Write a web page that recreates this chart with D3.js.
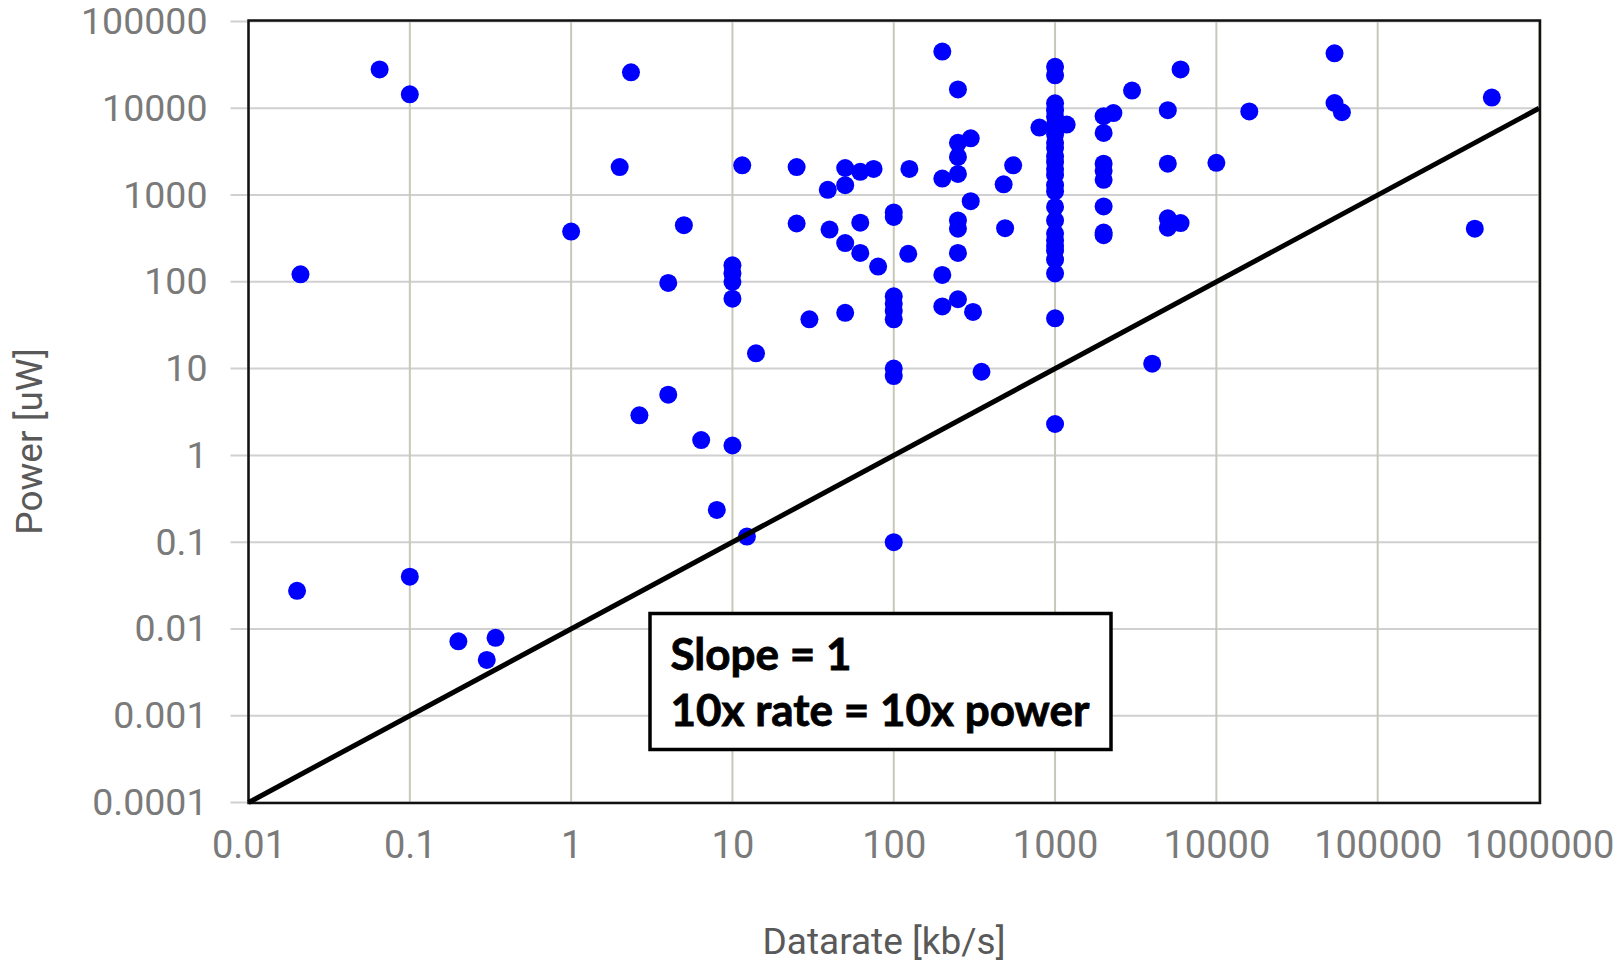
<!DOCTYPE html>
<html>
<head>
<meta charset="utf-8">
<script src="https://cdn.jsdelivr.net/npm/d3@7"></script>
<style>
  html, body { margin: 0; padding: 0; background: #ffffff; }
  svg { display: block; }
</style>
</head>
<body>
<svg id="chart" width="1620" height="962"></svg>
<script>
// ---- Data (Datarate in kb/s, Power in uW) ----
const datarate = [
  0.065, 0.1, 0.021, 0.02, 0.1, 0.2, 0.3, 0.34,
  1, 2, 2.35, 2.65, 4, 4, 5, 6.4, 8,
  10, 10, 10, 10, 10, 11.5, 12.3, 14,
  25, 25, 30, 39, 40, 50, 50, 50, 50, 62, 62, 62, 75, 80,
  100, 100, 100, 100, 100, 100, 100, 100, 100,
  123, 125, 200, 200, 200, 200,
  250, 250, 250, 250, 250, 250, 250, 250,
  300, 300, 310, 350, 480, 490, 550, 800, 1180,
  1000, 1000, 1000, 1000, 1000, 1000, 1000, 1000, 1000, 1000, 1000, 1000, 1000,
  1000, 1000, 1000, 1000, 1000, 1000, 1000, 1000, 1000, 1000, 1000, 1000,
  2000, 2300, 2000, 2000, 2000, 2000, 2000, 2000, 2000,
  3000, 4000, 5000, 5000, 5000, 5000, 6000, 6000, 10000, 16000,
  54000, 54000, 60000, 400000, 510000
];
const power = [
  28000, 14500, 122, 0.0275, 0.04, 0.0072, 0.0044, 0.0079,
  380, 2100, 26000, 2.9, 97, 5, 450, 1.5, 0.235,
  155, 125, 100, 64, 1.3, 2200, 0.116, 15,
  2100, 470, 37, 1150, 400, 2050, 1300, 280, 44, 1850, 480, 215, 2000, 150,
  630, 560, 68, 56, 46, 37, 10, 8.2, 0.1,
  210, 2000, 45000, 1550, 120, 52,
  16500, 4000, 2750, 1750, 510, 410, 215, 63,
  4500, 850, 45, 9.2, 1330, 415, 2200, 6000, 6500,
  30000, 24000, 11400, 9500, 8000, 6500, 5000, 4000, 3500, 2800, 2400, 2000, 1700,
  1300, 1100, 730, 510, 360, 300, 260, 230, 180, 125, 38, 2.3,
  8100, 8800, 5200, 2300, 1900, 1500, 740, 370, 345,
  16000, 11.4, 9500, 2300, 540, 420, 475, 28000, 2350, 9200,
  43000, 11500, 9000, 410, 13300
];

// Reference line: slope = 1 on log-log axes
const slopeX = [0.01, 1000000];
const slopeY = [0.0001, 10000];

// Axis ticks
const xTicks = [0.01, 0.1, 1, 10, 100, 1000, 10000, 100000, 1000000];
const xTickLabels = ["0.01", "0.1", "1", "10", "100", "1000", "10000", "100000", "1000000"];
const yTicks = [100000, 10000, 1000, 100, 10, 1, 0.1, 0.01, 0.001, 0.0001];
const yTickLabels = ["100000", "10000", "1000", "100", "10", "1", "0.1", "0.01", "0.001", "0.0001"];

const xTitle = "Datarate [kb/s]";
const yTitle = "Power [uW]";
const noteLines = ["Slope = 1", "10x rate = 10x power"];

// ---- Layout ----
const W = 1620, H = 962;
const plot = { left: 248.5, right: 1539, top: 21.5, bottom: 802.5 };

const svg = d3.select("#chart");
svg.append("rect").attr("width", W).attr("height", H).attr("fill", "#ffffff");

const x = d3.scaleLog().domain([0.01, 1000000]).range([plot.left, plot.right]);
const y = d3.scaleLog().domain([0.0001, 100000]).range([plot.bottom, plot.top]);

// Gridlines
const grid = svg.append("g");
grid.selectAll("line.h").data(yTicks).enter().append("line")
  .attr("x1", plot.left - 18).attr("x2", plot.right)
  .attr("y1", d => y(d)).attr("y2", d => y(d))
  .attr("stroke", "#d0d0d0").attr("stroke-width", 2);
grid.selectAll("line.v").data(xTicks).enter().append("line")
  .attr("x1", d => x(d)).attr("x2", d => x(d))
  .attr("y1", plot.top).attr("y2", plot.bottom)
  .attr("stroke", "#c9c7b8").attr("stroke-width", 2);

// Axes (labels only; gridlines drawn above)
const yAxis = d3.axisLeft(y).tickValues(yTicks)
  .tickFormat((d, i) => yTickLabels[i]).tickSize(18).tickPadding(23);
const gy = svg.append("g").attr("transform", `translate(${plot.left},0)`).call(yAxis);
gy.select(".domain").remove();
gy.selectAll(".tick line").remove();
gy.selectAll("text")
  .attr("font-family", "Roboto, sans-serif").attr("font-size", 37.5)
  .attr("fill", "#7a7a7a");

const xAxis = d3.axisBottom(x).tickValues(xTicks)
  .tickFormat((d, i) => xTickLabels[i]).tickSize(0).tickPadding(29);
const gx = svg.append("g").attr("transform", `translate(0,${plot.bottom})`).call(xAxis);
gx.select(".domain").remove();
gx.selectAll(".tick line").remove();
gx.selectAll("text")
  .attr("font-family", "Roboto, sans-serif").attr("font-size", 38)
  .attr("fill", "#7a7a7a");

// Plot frame
svg.append("rect")
  .attr("x", plot.left).attr("y", plot.top - 1)
  .attr("width", plot.right - plot.left + 1).attr("height", plot.bottom - plot.top + 1.5)
  .attr("fill", "none").attr("stroke", "#111111").attr("stroke-width", 2.5);

// Points
const pts = datarate.map((d, i) => ({ x: d, y: power[i] }));
svg.append("g").selectAll("circle").data(pts).enter().append("circle")
  .attr("cx", d => x(d.x)).attr("cy", d => y(d.y)).attr("r", 9)
  .attr("fill", "#0000ff");

// Slope line
const line = d3.line().x(d => x(d[0])).y(d => y(d[1]));
svg.append("path")
  .datum(slopeX.map((v, i) => [v, slopeY[i]]))
  .attr("d", line)
  .attr("fill", "none").attr("stroke", "#000000").attr("stroke-width", 5);

// Annotation box
const note = svg.append("g");
note.append("rect")
  .attr("x", 650).attr("y", 613.5).attr("width", 461).attr("height", 136)
  .attr("fill", "#ffffff").attr("stroke", "#000000").attr("stroke-width", 3.5);
note.selectAll("text").data(noteLines).enter().append("text")
  .attr("x", 670.5).attr("y", (d, i) => 669.5 + i * 56.5)
  .attr("font-family", "Lato, 'Open Sans', sans-serif").attr("font-weight", 700)
  .attr("font-size", 44).attr("fill", "#000000")
  .attr("stroke", "#000000").attr("stroke-width", 0.8)
  .text(d => d);

// Axis titles
svg.append("text")
  .attr("x", 884).attr("y", 954).attr("text-anchor", "middle")
  .attr("font-family", "Roboto, sans-serif").attr("font-size", 37)
  .attr("fill", "#595959").text(xTitle);
svg.append("text")
  .attr("transform", "translate(42,441.5) rotate(-90)")
  .attr("text-anchor", "middle")
  .attr("font-family", "Roboto, sans-serif").attr("font-size", 37)
  .attr("fill", "#595959").text(yTitle);
</script>
</body>
</html>
